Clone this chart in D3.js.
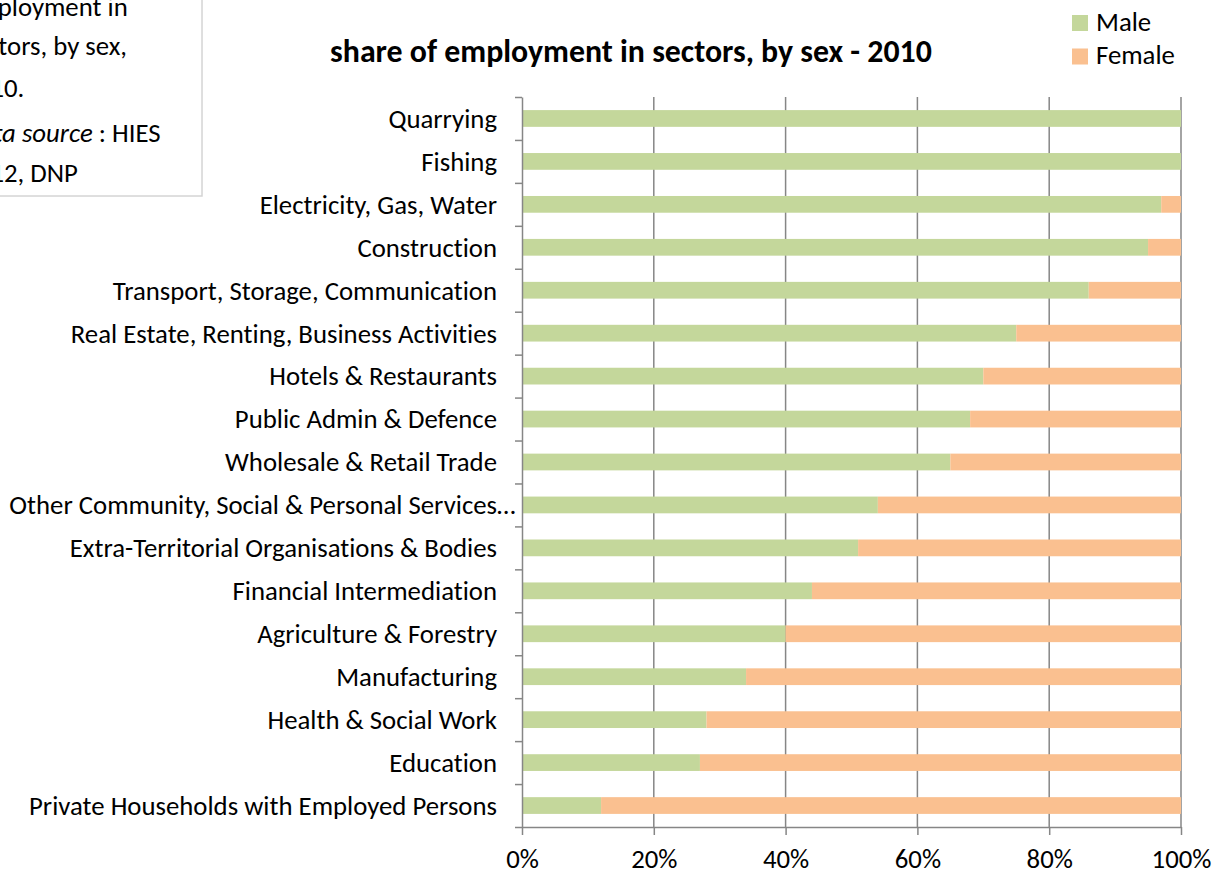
<!DOCTYPE html>
<html>
<head>
  <meta charset="utf-8">
  <script src="https://d3js.org/d3.v7.min.js"></script>
  <title>share of employment in sectors, by sex - 2010</title>
  <style>
    body { margin: 0; background: #fff; }
    text { font-family: Carlito, Calibri, Lato, sans-serif; fill: #000; font-variant-ligatures: none; }
    .domain, .tick line { stroke: #868686; stroke-width: 1.5; }
  </style>
</head>
<body>
  <svg width="1227" height="874"></svg>
  <script>
    const sectors = [
      'Quarrying', 'Fishing', 'Electricity, Gas, Water', 'Construction',
      'Transport, Storage, Communication', 'Real Estate, Renting, Business Activities',
      'Hotels & Restaurants', 'Public Admin & Defence', 'Wholesale & Retail Trade',
      'Other Community, Social & Personal Services…', 'Extra-Territorial Organisations & Bodies',
      'Financial Intermediation', 'Agriculture & Forestry', 'Manufacturing',
      'Health & Social Work', 'Education', 'Private Households with Employed Persons'
    ];
    const maleShare = [100, 100, 97, 95, 86, 75, 70, 68, 65, 54, 51, 44, 40, 34, 28, 27, 12];
    const femaleShare = [0, 0, 3, 5, 14, 25, 30, 32, 35, 46, 49, 56, 60, 66, 72, 73, 88];
    const seriesNames = ['Male', 'Female'];
    const seriesColors = ['#c4d79b', '#fac090'];
    const xTicks = [0, 20, 40, 60, 80, 100];
    const chartTitle = 'share of employment in sectors, by sex - 2010';
    const noteLines = ['Employment in', 'sectors, by sex,', '2010.', 'Data source : HIES', '2012, DNP'];

    const svg = d3.select('svg');
    const plotLeft = 522, plotRight = 1181, plotTop = 97, plotBottom = 827;

    // measure text so that the fallback font is sized like the original
    function textWidth(str, size, weight) {
      const t = svg.append('text').style('font-size', size + 'px')
        .style('font-weight', weight || 'normal').text(str);
      const w = t.node().getComputedTextLength();
      t.remove();
      return w;
    }
    const fs = 25 * 488 / textWidth('Other Community, Social & Personal Services', 25);
    const titleFs = 25 * 602 / textWidth(chartTitle, 25, 'bold');

    const data = sectors.map((s, i) => ({ sector: s, Male: maleShare[i], Female: femaleShare[i] }));
    const stacked = d3.stack().keys(seriesNames)(data);

    const x = d3.scaleLinear().domain([0, 100]).range([plotLeft, plotRight]);
    const y = d3.scaleBand().domain(sectors).range([plotTop, plotBottom])
      .paddingInner(0.61).paddingOuter(0.305);
    const yIdx = d3.scaleLinear().domain([0, sectors.length]).range([plotTop, plotBottom]);
    const color = d3.scaleOrdinal().domain(seriesNames).range(seriesColors);

    // gridlines
    svg.append('g').selectAll('line').data(xTicks.slice(1)).enter().append('line')
      .attr('x1', d => x(d)).attr('x2', d => x(d))
      .attr('y1', plotTop).attr('y2', plotBottom)
      .attr('stroke', '#868686').attr('stroke-width', 1.5);

    // bars
    svg.append('g').selectAll('g').data(stacked).enter().append('g')
      .attr('fill', d => color(d.key))
      .selectAll('rect').data(d => d).enter().append('rect')
      .attr('x', d => x(d[0]))
      .attr('width', d => x(d[1]) - x(d[0]))
      .attr('y', d => y(d.data.sector))
      .attr('height', y.bandwidth());

    // axes
    const xAxisG = svg.append('g')
      .attr('transform', `translate(0,${plotBottom})`)
      .call(d3.axisBottom(x).tickValues(xTicks).tickSize(8).tickSizeOuter(0)
        .tickFormat(d => d + '%'));
    xAxisG.selectAll('text').attr('y', 41).attr('dy', null)
      .style('font-size', fs + 'px').attr('fill', '#000');

    svg.append('g')
      .attr('transform', `translate(${plotLeft},0)`)
      .call(d3.axisLeft(yIdx).tickValues(d3.range(sectors.length + 1))
        .tickSize(7).tickSizeOuter(0).tickFormat(''));

    // category labels (Excel lets the ellipsis hang past the label edge)
    const labels = svg.append('g').selectAll('g').data(sectors).enter().append('g')
      .attr('transform', d => `translate(497,${y(d) + y.bandwidth() / 2})`);
    labels.append('text')
      .attr('text-anchor', 'end').attr('dy', '0.35em')
      .style('font-size', fs + 'px')
      .text(d => d.replace('…', ''));
    labels.filter(d => d.endsWith('…')).append('text')
      .attr('dy', '0.35em').style('font-size', fs + 'px').text('…');

    // title
    svg.append('text')
      .attr('x', 631).attr('y', 62)
      .attr('text-anchor', 'middle')
      .style('font-size', titleFs + 'px').style('font-weight', 'bold')
      .text(chartTitle);

    // legend
    const legend = svg.append('g').selectAll('g').data(seriesNames).enter().append('g')
      .attr('transform', (d, i) => `translate(1072,${15 + i * 33.5})`);
    legend.append('rect').attr('width', 16).attr('height', 16).attr('fill', d => color(d));
    legend.append('text').attr('x', 24).attr('y', 15.5)
      .style('font-size', fs + 'px').text(d => d);

    // note box, partly off the left edge
    const note = svg.append('g');
    note.append('rect')
      .attr('x', -5).attr('y', -5).attr('width', 207).attr('height', 201)
      .attr('fill', '#fff').attr('stroke', '#d4d4d4').attr('stroke-width', 1.5);
    const noteX = 127 - textWidth(noteLines[1], fs);
    const noteY = [16, 55, 96.5, 141.5, 181.5];
    note.selectAll('text').data(noteLines).enter().append('text')
      .attr('x', noteX).attr('y', (d, i) => noteY[i])
      .style('font-size', fs + 'px')
      .each(function (d) {
        const t = d3.select(this);
        if (d.startsWith('Data source')) {
          t.append('tspan').style('font-style', 'italic').text('Data source');
          t.append('tspan').text(d.slice('Data source'.length));
        } else {
          t.text(d);
        }
      });
  </script>
</body>
</html>
